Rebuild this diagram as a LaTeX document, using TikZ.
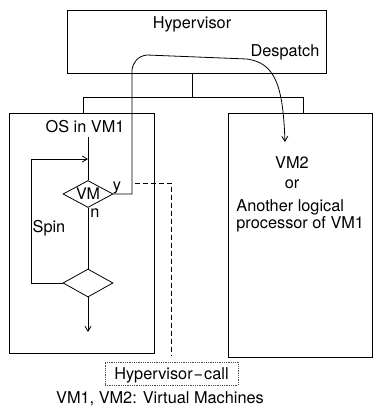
\documentclass[tikz,border=0pt]{standalone}
\usepackage{fontspec}
\setmainfont{TeX Gyre Heros}
\usetikzlibrary{arrows.meta, positioning, shapes.geometric}

\begin{document}
\begin{tikzpicture}[
  x=1pt, y=-1pt,
  line width=0.8pt,
  box/.style={draw, minimum width=#1, inner sep=0pt},
  lbl/.style={inner sep=0pt, font=\fontsize{16.3}{15}\selectfont},
  test/.style={draw, diamond, aspect=1.85, minimum width=50pt,
    minimum height=27pt, inner sep=0pt, font=\fontsize{16}{16}\selectfont},
  arr/.style={-{Straight Barb[length=5pt, width=6pt]}}
]
  \useasboundingbox (0,0) rectangle (373,408);

  \node[box=259pt, minimum height=63pt] (hyper) at (196.5,41.5) {};
  \node[box=145pt, minimum height=240pt] (vmone) at (81.5,233) {};
  \node[box=144pt, minimum height=244pt] (vmtwo) at (300,235) {};
  \node[box=133pt, minimum height=23pt, draw=black!70, densely dotted]
    (call) at (171.5,373.5) {};

  \node[lbl] (hypername) at (192,24) {Hypervisor};
  \node[lbl] (despatch) at (285,52) {Despatch};
  \node[lbl] (os) at (85,127) {OS in VM1};
  \node[lbl, align=center, font=\fontsize{16.3}{20}\selectfont]
    (vmor) at (292,173) {VM2\\or};
  \node[lbl, align=left, anchor=west] (other) at (236,216)
    {Another logical\\processor of VM1};
  \node[lbl] (callname) at (171.5,375) {Hypervisor\kern1pt−\kern1pt call};
  \node[lbl] (caption) at (160,399) {VM1, VM2: Virtual Machines};

  \node[test] (vmtest) at (88,194) {VM};
  \node[test, minimum height=28pt] (spintest) at (88,283) {};
  \node[lbl, anchor=south west] (yes) at ([xshift=-1pt]vmtest.east) {y};
  \node[lbl, anchor=north west] (no) at ([xshift=2pt]vmtest.south) {n};
  \node[lbl] (spin) at (49,228) {Spin};

  \coordinate (bus) at (192,97);
  \coordinate (busl) at (83,97);
  \coordinate (busr) at (303,97);
  \draw (bus |- hyper.south) -- (bus);
  \draw (busl |- vmone.north) -- (busl) -- (busr) -- (busr |- vmtwo.north);

  \coordinate (entry) at (88,137);
  \coordinate (loop) at (31,159);
  \coordinate (exit) at (88,332);
  \coordinate (rise) at (132,70);
  \coordinate (land) at (285,142);
  \coordinate (ystart) at (135,183);

  \draw (entry) -- (vmtest.north);
  \draw (vmtest.south) -- (spintest.north);
  \draw[arr] (spintest.west) -| (loop) -- (loop -| entry);
  \draw[arr] (spintest.south) -- (exit);
  \draw[arr] (vmtest.east) -| (rise)
    .. controls (133,62) and (138,56) .. (147,55) -- (247,59)
    .. controls (275,63) and (283,85) .. (land);
  \draw[dash pattern=on 5pt off 3pt, line width=0.7pt]
    (ystart) -| ([yshift=7pt]call.north);
\end{tikzpicture}
\end{document}
